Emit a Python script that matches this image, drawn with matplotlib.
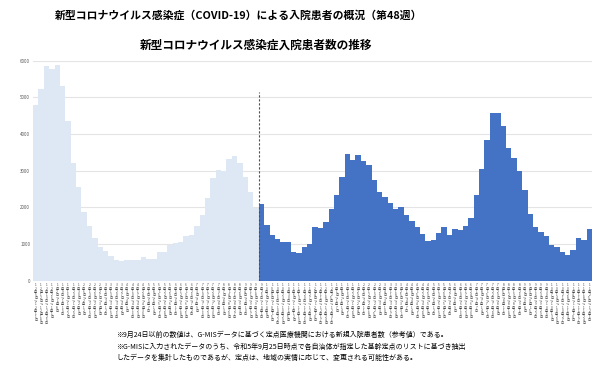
import datetime as dt
import matplotlib
matplotlib.use("Agg")
import matplotlib.pyplot as plt

plt.rcParams['font.family'] = ['Noto Sans CJK JP', 'DejaVu Sans']

# ---- data ----
start_date = dt.date(2022, 12, 5)
reference_values = [4790, 5230, 5850, 5770, 5880, 5320, 4360, 3210, 2550, 1870,
                    1500, 1170, 930, 810, 680, 570, 550, 560, 560, 570,
                    650, 590, 580, 780, 790, 970, 1020, 1050, 1210, 1250,
                    1500, 1780, 2260, 2810, 3020, 2990, 3320, 3400, 3220, 2820,
                    2430, 1970]
sentinel_values = [2090, 1510, 1250, 1130, 1050, 1050, 780, 750, 930, 1000,
                   1470, 1450, 1600, 1950, 2350, 2830, 3460, 3290, 3430, 3270,
                   3150, 2760, 2430, 2280, 2130, 1950, 2010, 1790, 1620, 1460,
                   1280, 1080, 1120, 1300, 1460, 1250, 1410, 1380, 1490, 1710,
                   2340, 3050, 3830, 4580, 4580, 4220, 3610, 3360, 3000, 2470,
                   1820, 1460, 1320, 1220, 980, 930, 780, 710, 830, 1160,
                   1110, 1400]
yticks = [0, 1000, 2000, 3000, 4000, 5000, 6000]

title = "新型コロナウイルス感染症（COVID-19）による入院患者の概況（第48週）"
subtitle = "新型コロナウイルス感染症入院患者数の推移"
notes = ["※9月24日以前の数値は、G-MISデータに基づく定点医療機関における新規入院患者数（参考値）である。",
         "※G-MISに入力されたデータのうち、令和5年9月25日時点で各自治体が指定した基幹定点のリストに基づき抽出",
         "したデータを集計したものであるが、定点は、地域の実情に応じて、変更される可能性がある。"]

values = reference_values + sentinel_values
n = len(values)
labels = []
for i in range(n):
    a = start_date + dt.timedelta(days=7 * i)
    b = a + dt.timedelta(days=6)
    labels.append(f"{a.month}月{a.day}日～{b.month}月{b.day}日")

light = "#DEE8F4"
dark = "#4472C4"
colors = [light] * len(reference_values) + [dark] * len(sentinel_values)

fig = plt.figure(figsize=(5.96, 3.68), dpi=100)
ax = fig.add_axes([33 / 596, 1 - 280.7 / 368, (592 - 33) / 596, 220 / 368])
x = list(range(n))
ax.bar(x, values, width=1.0, color=colors, linewidth=0, zorder=2)
ax.set_xlim(-0.5, n - 0.5)
ax.set_ylim(0, 6000)
ax.set_yticks(yticks)
ax.set_yticklabels([str(v) for v in yticks], fontsize=3.2, color="#595959")
ax.grid(axis='y', color="#E4E4E4", linewidth=0.8, zorder=0)
ax.set_axisbelow(True)
for s in ax.spines.values():
    s.set_visible(False)
ax.tick_params(axis='both', length=0, pad=2)

stacked = ["\n".join(l) for l in labels]
ax.set_xticks(x)
ax.set_xticklabels(stacked, fontsize=2.3, color="#404040")
for t in ax.get_xticklabels():
    t.set_linespacing(0.72)

split = len(reference_values) - 0.5
ax.vlines(split, 0, 5150, colors="#505050", linestyles=(0, (2, 1.6)), linewidth=0.8, zorder=3)

fig.text(55 / 596, 1 - 15 / 368, title, fontsize=7.8, fontweight='bold', va='center', ha='left')
fig.text(140 / 596, 1 - 45 / 368, subtitle, fontsize=8.4, fontweight='bold', va='center', ha='left')
ys = [335, 347, 358]
xs = [116, 116, 116]
for t, yy, xx in zip(notes, ys, xs):
    fig.text(xx / 596, 1 - yy / 368, t, fontsize=5.0, va='center', ha='left')

fig.savefig("out.png", dpi=100)
